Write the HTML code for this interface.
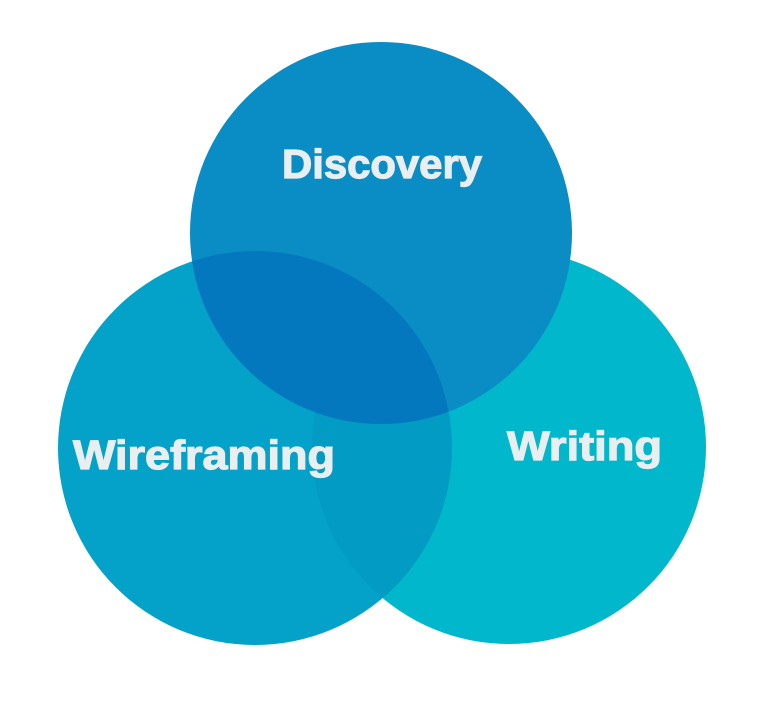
<!DOCTYPE html>
<html><head><style>html,body{margin:0;padding:0;background:#fff}svg{display:block}</style></head>
<body>
<svg width="772" height="701" viewBox="0 0 772 701" xmlns="http://www.w3.org/2000/svg">
<defs>
<clipPath id="cl"><circle cx="255" cy="448" r="197"/></clipPath>
<clipPath id="cr"><circle cx="509" cy="447" r="197"/></clipPath>
</defs>
<circle cx="509" cy="447" r="197" fill="#00b7cb"/>
<circle cx="255" cy="448" r="197" fill="#04a2c8"/>
<circle cx="509" cy="447" r="197" fill="#029bc3" clip-path="url(#cl)"/>
<circle cx="381" cy="233" r="191" fill="#0a8cc4"/>
<circle cx="381" cy="233" r="191" fill="#0478bf" clip-path="url(#cl)"/>
<g font-family="Liberation Sans, sans-serif" font-weight="bold" font-size="41" fill="#e9eef0" stroke="#e9eef0" stroke-width="1.2">
<text x="282" y="178" textLength="200" lengthAdjust="spacingAndGlyphs">Discovery</text>
<text x="73" y="469" textLength="262" lengthAdjust="spacingAndGlyphs">Wireframing</text>
<text x="507" y="460" textLength="155" lengthAdjust="spacingAndGlyphs">Writing</text>
</g>
</svg>
</body></html>
